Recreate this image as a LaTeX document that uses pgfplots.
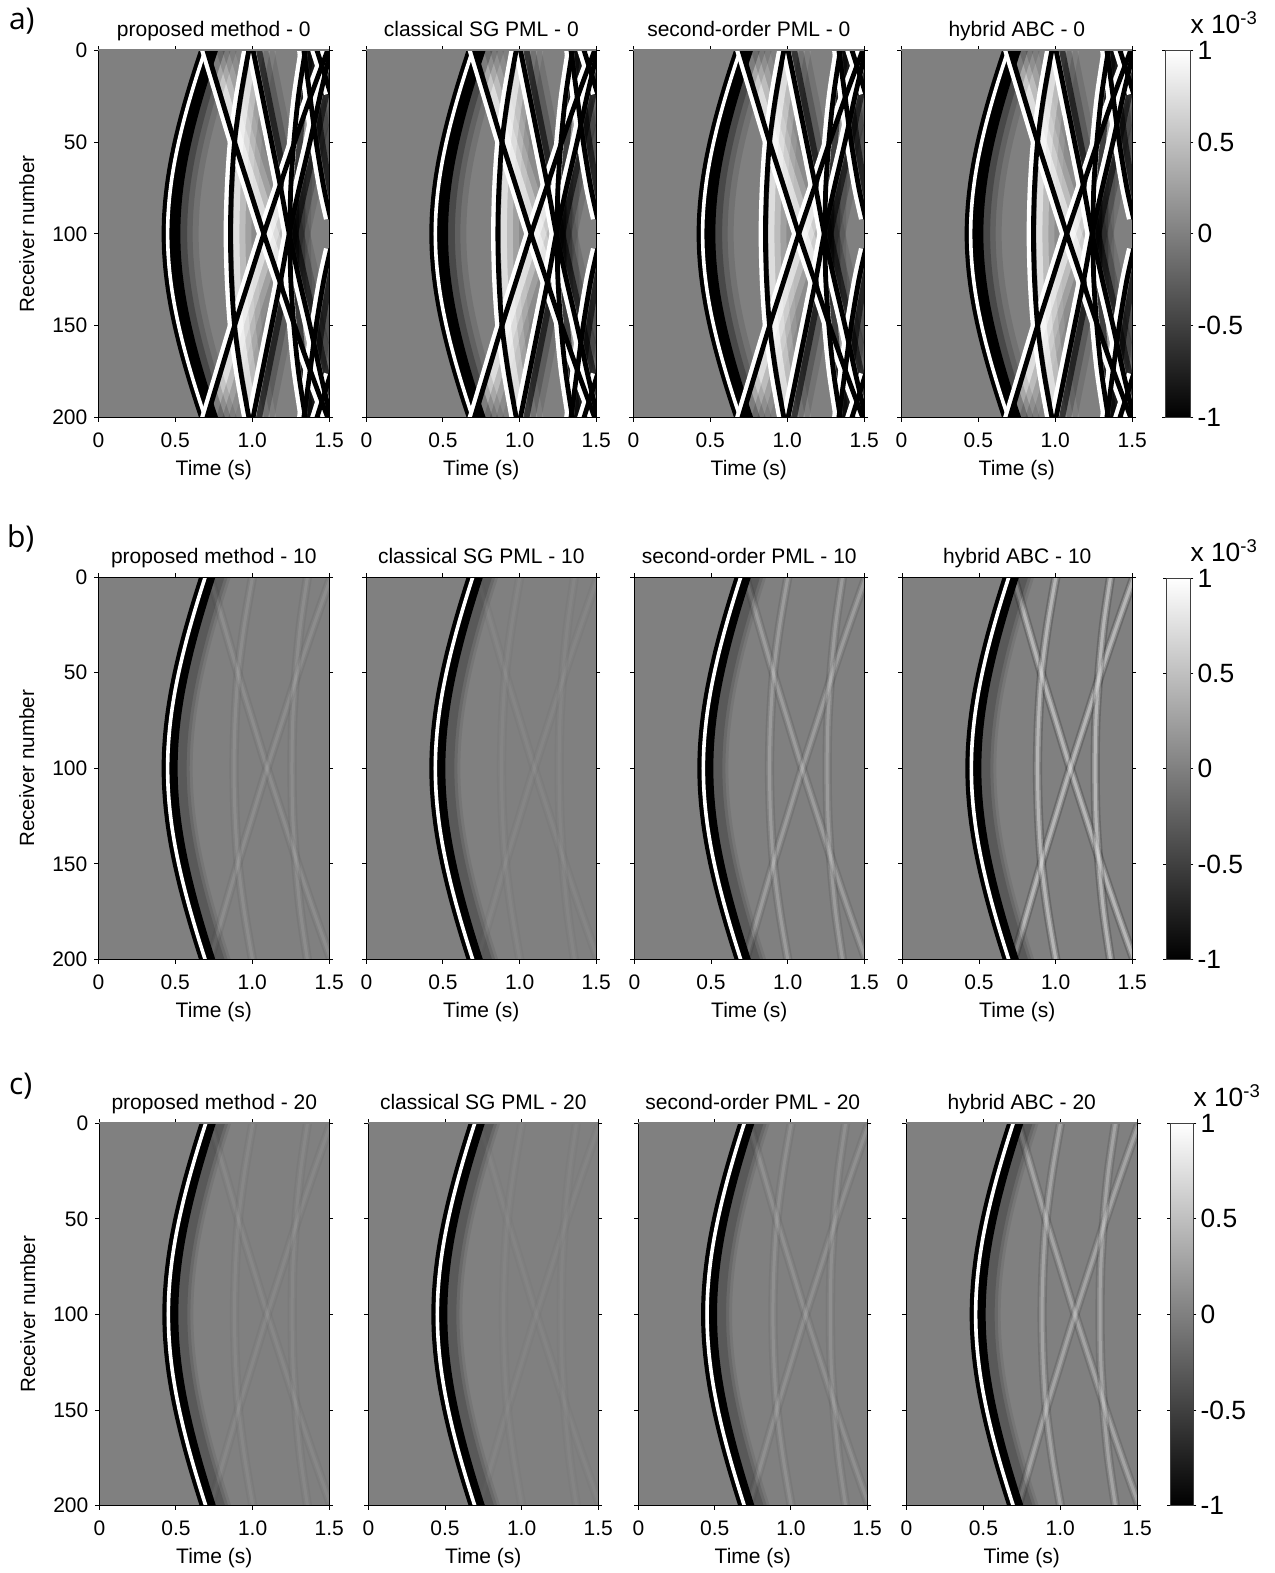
\documentclass[border=0pt]{standalone}
\usepackage{pgfplots}
\usepackage{pgfplotstable}
\usepackage{fontspec}
\pgfplotsset{compat=1.18}
\setmainfont{Liberation Sans}
\newfontfamily\labfont{Open Sans}
\definecolor{bgg}{gray}{0.5}
\newcommand\tickfont{\fontsize{10.5}{12}\selectfont}
\pgfplotstableread{
t r
0.735 -10
0.694 0
0.6546 10
0.6173 20
0.5824 30
0.5504 40
0.5218 50
0.4971 60
0.4771 70
0.4623 80
0.4531 90
0.45 100
0.4531 110
0.4623 120
0.4771 130
0.4971 140
0.5218 150
0.5504 160
0.5824 170
0.6173 180
0.6546 190
0.694 200
0.735 210
}\tblH
\pgfplotstableread{
t r
0.67 -10
0.705 0
0.795 25
0.885 50
0.98 75
1.075 100
1.175 125
1.275 150
1.38 175
1.49 200
1.535 210
}\tblA
\pgfplotstableread{
t r
1.535 -10
1.49 0
1.38 25
1.275 50
1.175 75
1.075 100
0.98 125
0.885 150
0.795 175
0.705 200
0.67 210
}\tblB
\pgfplotstableread{
t r
1.005 -10
0.978 0
0.925 25
0.885 50
0.865 75
0.858 100
0.865 125
0.885 150
0.925 175
0.978 200
1.005 210
}\tblHb
\pgfplotstableread{
t r
1.365 -10
1.345 0
1.30 25
1.27 50
1.25 75
1.245 100
1.25 125
1.27 150
1.30 175
1.345 200
1.365 210
}\tblHc
\pgfplotstableread{
t r
0.98 -10
1.005 0
1.065 25
1.125 50
1.185 75
1.24 100
1.305 125
1.375 150
1.44 175
1.51 200
}\tblC
\pgfplotstableread{
t r
1.51 0
1.44 25
1.375 50
1.305 75
1.24 100
1.185 125
1.125 150
1.065 175
1.005 200
0.98 210
}\tblCp
\pgfplotstableread{
t r
1.32 -10
1.335 0
1.375 25
1.415 50
1.465 75
1.51 92
}\tblD
\pgfplotstableread{
t r
1.51 108
1.465 125
1.415 150
1.375 175
1.335 200
1.32 210
}\tblDp
\pgfplotstableread{
t r
1.38 -10
1.42 0
1.51 24
}\tblF
\pgfplotstableread{
t r
1.51 176
1.42 200
1.38 210
}\tblFp
\pgfplotstableread{
v y c
0 -1 -1
1 -1 -1
0 1 1
1 1 1
}\tblBar
\pgfplotsset{
  colormap={bw}{gray(0cm)=(0);gray(1cm)=(1)},
  panel/.style={
    scale only axis, y dir=reverse, xmin=0, xmax=1.5, ymin=0, ymax=200,
    xtick={0,0.5,1,1.5}, xticklabels={0,0.5,1.0,1.5},
    ytick={0,50,100,150,200},
    tick align=outside, major tick length=2pt,
    axis line style={line width=0.6pt,black}, tick style={line width=0.5pt,black},
    axis background/.style={fill=bgg}, axis on top=true,
    tick label style={font=\tickfont},
    x tick label style={yshift=-2pt},
    label style={font=\tickfont},
    title style={font=\tickfont,at={(0.5,1)},anchor=base,yshift=1pt},
    xlabel style={at={(axis description cs:0.5,0)},anchor=base,yshift=-29pt},
    every axis plot/.append style={no markers,line cap=butt,line join=round,mark=none},
  },
  graytop/.style={after end axis/.code={\draw[bgg,line width=1.1pt] (axis description cs:0,1)--(axis description cs:1,1);}},
}
\newcommand\lne[3]{\addplot[#1,smooth,#2] table[x=t,y=r]{#3};}
\newcommand\mainlines{%
  \lne{black}{line width=2.2pt,xshift=-1.9pt}{\tblH}
  \lne{black}{line width=4.4pt,xshift=2.8pt}{\tblH}
  \lne{white}{line width=1.8pt}{\tblH}
}
\newcommand\mainwave{%
  \lne{black}{opacity=.07,line width=10pt,xshift=7.5pt}{\tblH}
  \lne{black}{opacity=.10,line width=8.5pt,xshift=6.8pt}{\tblH}
  \lne{black}{opacity=.15,line width=7pt,xshift=6pt}{\tblH}
  \mainlines
}
\newcommand\mainwaveS{%
  \lne{black}{opacity=.10,line width=13pt,xshift=9pt}{\tblH}
  \lne{black}{opacity=.15,line width=10pt,xshift=7.5pt}{\tblH}
  \lne{black}{opacity=.25,line width=7.5pt,xshift=6pt}{\tblH}
  \lne{black}{line width=5.5pt,xshift=3.6pt}{\tblH}
  \mainlines
}
\newcommand\wakeW[1]{%
  \lne{white}{opacity=.10,line width=12pt,xshift=7.5pt}{#1}
  \lne{white}{opacity=.18,line width=9pt,xshift=6pt}{#1}
  \lne{white}{opacity=.3,line width=6pt,xshift=4.5pt}{#1}
  \lne{white}{opacity=.5,line width=3pt,xshift=3pt}{#1}
}
\newcommand\wakeK[1]{%
  \lne{black}{opacity=.10,line width=9pt,xshift=6pt}{#1}
  \lne{black}{opacity=.2,line width=6pt,xshift=4.5pt}{#1}
  \lne{black}{opacity=.6,line width=3pt,xshift=3pt}{#1}
}
\newcommand\wht[1]{\lne{white}{line width=2.4pt,xshift=-2.2pt}{#1}}
\newcommand\blk[1]{\lne{black}{line width=2.4pt}{#1}}
\newcommand\strongset{%
  \wakeW{\tblA}\wakeW{\tblB}\wakeW{\tblHb}
  \wakeK{\tblC}\wakeK{\tblCp}\wakeK{\tblHc}\wakeK{\tblD}\wakeK{\tblDp}
  \mainwaveS
  \wht{\tblA}\wht{\tblB}\wht{\tblHb}\wht{\tblC}\wht{\tblCp}\wht{\tblHc}\wht{\tblD}\wht{\tblDp}\wht{\tblF}\wht{\tblFp}
  \blk{\tblA}\blk{\tblB}\blk{\tblHb}\blk{\tblC}\blk{\tblCp}\blk{\tblHc}\blk{\tblD}\blk{\tblDp}\blk{\tblF}\blk{\tblFp}
}
\newcommand\weakln[3]{%
  \pgfmathsetmacro\opd{#1*0.35}%
  \pgfmathsetmacro\opa{#1*0.5}%
  \pgfmathsetmacro\opb{#1*0.7}%
  \lne{black}{opacity=\opd,line width=4.6pt,xshift=#3}{#2}
  \lne{white}{opacity=\opa,line width=3pt,xshift=#3}{#2}
  \lne{white}{opacity=\opb,line width=1.5pt,xshift=#3}{#2}
}
\newcommand\weakset[1]{%
  \weakln{#1}{\tblA}{1.6pt}
  \weakln{#1}{\tblB}{1.6pt}
  \weakln{#1}{\tblHb}{1.8pt}
  \weakln{#1}{\tblHc}{1pt}
  \mainwave
}
% #1 xleft #2 xright #3 ytop #4 ybot (reference pixels) #5 title #6 options #7 body
\newcommand\panel[7]{%
  \pgfmathsetmacro\pw{(#2-#1)/2*1.00375}%
  \pgfmathsetmacro\ph{(#4-#3)/2*1.00375}%
  \pgfmathsetmacro\px{#1/2*1.00375}%
  \pgfmathsetmacro\py{786.5-#4/2*1.00375}%
  \begin{axis}[panel,at={(\px pt,\py pt)},anchor=south west,width=\pw pt,height=\ph pt,
    title={#5},xlabel={Time (s)},#6]
    #7
  \end{axis}%
}
\pgfplotsset{
  ylab/.style={yticklabels={0,50,100,150,200},ylabel={Receiver number},
  ylabel style={font=\fontsize{10.3}{12}\selectfont,at={(axis description cs:0,0.5)},rotate=0,anchor=south,yshift=28.5pt}},
  nolab/.style={yticklabels={}},
}
\newcommand\cbar[4]{%
  \pgfmathsetmacro\pw{(#2-#1)/2*1.00375}%
  \pgfmathsetmacro\ph{(#4-#3)/2*1.00375}%
  \pgfmathsetmacro\px{#1/2*1.00375}%
  \pgfmathsetmacro\py{786.5-#4/2*1.00375}%
  \begin{axis}[scale only axis,at={(\px pt,\py pt)},anchor=south west,width=\pw pt,height=\ph pt,
    xmin=0,xmax=1,ymin=-1,ymax=1,xtick=\empty,
    ytick={-1,-0.5,0,0.5,1},yticklabels={-1,-0.5,0,0.5,1},yticklabel pos=right,
    tick align=outside,major tick length=1.5pt,
    axis line style={line width=0.6pt,black!75},tick style={line width=0.5pt,black},
    y tick label style={font=\fontsize{13.2}{15}\selectfont,xshift=-1.5pt},
    title={x 10\textsuperscript{-3}},
    title style={font=\fontsize{13.2}{15}\selectfont,at={(1,1)},anchor=base west,xshift=-3.5pt,yshift=2.5pt},
    axis on top=true]
    \addplot[surf,shader=interp,mesh/cols=2,point meta=explicit,colormap name=bw]
      table[x=v,y=y,meta=c]{\tblBar};
  \end{axis}%
}
\begin{document}
\begin{tikzpicture}[x=1pt,y=1pt]
\node[anchor=base west,font=\labfont\fontsize{15}{18}\selectfont] at (1,771.5) {a)};
\node[anchor=base west,font=\labfont\fontsize{15}{18}\selectfont] at (0,512.5) {b)};
\node[anchor=base west,font=\labfont\fontsize{15}{18}\selectfont] at (1,239) {c)};
% row a
\panel{98}{328}{50}{416}{proposed method - 0}{ylab,graytop}{\strongset}
\panel{365}{594}{50}{416}{classical SG PML - 0}{nolab,graytop}{\strongset}
\panel{631}{861}{50}{416}{second-order PML - 0}{nolab,graytop}{\strongset}
\panel{898}{1128}{50}{416}{hybrid ABC - 0}{nolab,graytop}{\strongset}
\cbar{1161}{1186}{50}{416}
% row b
\panel{98}{328}{575}{956}{proposed method - 10}{ylab}{\weakset{0.13}}
\panel{365}{594}{575}{956}{classical SG PML - 10}{nolab}{\weakset{0.07}}
\panel{632}{861}{575}{956}{second-order PML - 10}{nolab}{\weakset{0.26}}
\panel{899}{1128}{575}{956}{hybrid ABC - 10}{nolab}{\weakset{0.5}}
\cbar{1162}{1186}{576}{956}
% row c
\panel{99}{328}{1119}{1500}{proposed method - 20}{ylab,graytop}{\weakset{0.09}}
\panel{367}{596}{1119}{1500}{classical SG PML - 20}{nolab,graytop}{\weakset{0.05}}
\panel{636}{864}{1119}{1500}{second-order PML - 20}{nolab,graytop}{\weakset{0.15}}
\panel{903}{1133}{1119}{1500}{hybrid ABC - 20}{nolab,graytop}{\weakset{0.33}}
\cbar{1166}{1189}{1119}{1500}
\pgfresetboundingbox
\path[use as bounding box] (0,0) rectangle (637,786.5);
\end{tikzpicture}
\end{document}
